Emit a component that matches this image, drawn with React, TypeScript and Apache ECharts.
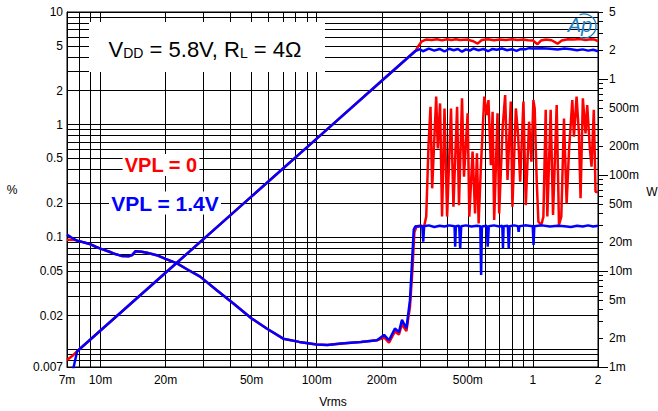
import React, { useEffect, useRef } from 'react';
import * as echarts from 'echarts';

const FONT = "'Liberation Sans', Arial, sans-serif";

// Tick labels
const xTickValues = [0.007, 0.01, 0.02, 0.05, 0.1, 0.2, 0.5, 1, 2];
const xTickLabels = ['7m', '10m', '20m', '50m', '100m', '200m', '500m', '1', '2'];
const leftTickValues = [10, 5, 2, 1, 0.5, 0.2, 0.1, 0.05, 0.02, 0.007];
const leftTickLabels = ['10', '5', '2', '1', '0.5', '0.2', '0.1', '0.05', '0.02', '0.007'];
const rightTickValues = [5, 2, 1, 0.5, 0.2, 0.1, 0.05, 0.02, 0.01, 0.005, 0.002, 0.001];
const rightTickLabels = ['5', '2', '1', '500m', '200m', '100m', '50m', '20m', '10m', '5m', '2m', '1m'];
const rightDecades = [1, 0.1, 0.01, 0.001];

// THD+N (%) vs Vrms
const thdBlueStart = [[0.007, 0.105], [0.0074, 0.098]];
const thdRedStart = [[0.007, 0.094], [0.0074, 0.095]];
const thdShared = [
  [0.0078, 0.093], [0.0085, 0.089], [0.009, 0.086], [0.0095, 0.082], [0.01, 0.079],
  [0.011, 0.074], [0.0117, 0.0706], [0.0125, 0.068], [0.0135, 0.0674], [0.014, 0.069],
  [0.0145, 0.0746], [0.0155, 0.074], [0.0164, 0.0726], [0.0182, 0.069], [0.02, 0.064],
  [0.0226, 0.0584], [0.025, 0.052], [0.0289, 0.0445], [0.0345, 0.0337], [0.0412, 0.0257],
  [0.05, 0.0189], [0.0587, 0.0154], [0.07, 0.0125], [0.083, 0.0117], [0.1, 0.0111],
  [0.112, 0.011], [0.13, 0.0113], [0.16, 0.0117], [0.19, 0.0121],
];
const thdBlueTail = [
  [0.205, 0.0135], [0.216, 0.0121], [0.23, 0.0154], [0.24, 0.0143], [0.248, 0.0184],
  [0.26, 0.0154], [0.27, 0.0275], [0.276, 0.06], [0.281, 0.116], [0.286, 0.125],
  [0.295, 0.124], [0.305, 0.126], [0.308, 0.124], [0.311, 0.091], [0.314, 0.125],
  [0.33, 0.127], [0.35, 0.123], [0.37, 0.126], [0.39, 0.124], [0.41, 0.127],
  [0.434, 0.125], [0.437, 0.082], [0.44, 0.125], [0.456, 0.126], [0.461, 0.079],
  [0.466, 0.125], [0.49, 0.127], [0.52, 0.124], [0.55, 0.126], [0.571, 0.125],
  [0.576, 0.046], [0.581, 0.124], [0.612, 0.126], [0.618, 0.082], [0.625, 0.125],
  [0.66, 0.127], [0.7, 0.124], [0.722, 0.126], [0.727, 0.079], [0.732, 0.125],
  [0.766, 0.126], [0.773, 0.079], [0.78, 0.125], [0.82, 0.127], [0.852, 0.125],
  [0.859, 0.111], [0.866, 0.125], [0.92, 0.127], [0.998, 0.125], [1.007, 0.085],
  [1.015, 0.125], [1.1, 0.127], [1.2, 0.124], [1.3, 0.126], [1.4, 0.125],
  [1.5, 0.123], [1.6, 0.126], [1.7, 0.124], [1.8, 0.127], [1.9, 0.124], [2.0, 0.126],
];
const thdRedTail = [
  [0.205, 0.0128], [0.216, 0.0115], [0.23, 0.0145], [0.24, 0.0136], [0.248, 0.0168],
  [0.26, 0.0146], [0.27, 0.024], [0.277, 0.05], [0.283, 0.11], [0.29, 0.125],
  [0.3, 0.126], [0.31, 0.124], [0.315, 0.128], [0.321, 0.152], [0.329, 0.658],
  [0.336, 1.44], [0.342, 0.271], [0.357, 1.77], [0.363, 0.614], [0.372, 1.54],
  [0.38, 0.152], [0.39, 1.39], [0.401, 0.152], [0.418, 1.39], [0.429, 0.186],
  [0.446, 1.44], [0.455, 0.192], [0.47, 1.71], [0.48, 0.344], [0.499, 1.26],
  [0.508, 0.152], [0.526, 0.574], [0.54, 0.162], [0.551, 0.555], [0.561, 0.132],
  [0.575, 0.436], [0.596, 1.77], [0.611, 1.21], [0.623, 1.65], [0.639, 0.436],
  [0.651, 1.3], [0.662, 0.142], [0.686, 1.26], [0.698, 0.162], [0.724, 0.925],
  [0.744, 1.83], [0.763, 0.321], [0.79, 1.6], [0.804, 0.186], [0.834, 1.39],
  [0.854, 0.807], [0.873, 0.31], [0.904, 1.6], [0.927, 0.192], [0.96, 1.06],
  [0.984, 0.467], [1.005, 1.65], [1.019, 1.39], [1.041, 0.321], [1.06, 0.137],
  [1.094, 0.128], [1.118, 0.152], [1.146, 1.35], [1.166, 0.152], [1.208, 1.35],
  [1.239, 0.157], [1.288, 1.49], [1.32, 0.128], [1.353, 0.152], [1.392, 1.13],
  [1.432, 0.199], [1.468, 0.574], [1.521, 1.65], [1.548, 0.78], [1.592, 1.77],
  [1.632, 0.835], [1.661, 0.221], [1.702, 1.71], [1.751, 0.835], [1.783, 1.49],
  [1.834, 0.614], [1.867, 0.422], [1.913, 1.35], [1.948, 0.253], [2.0, 0.25],
];

// Output power (W) vs Vrms
const pwrBlueStart = [[0.00745, 0.0009], [0.0075, 0.00098]];
const pwrRedStart = [[0.007, 0.00118], [0.0074, 0.0013]];
const pwrShared = [
  [0.0078, 0.00146], [0.01, 0.0024], [0.02, 0.0096], [0.05, 0.06], [0.1, 0.24],
  [0.2, 0.96], [0.286, 1.96],
];
const pwrBlueTail = [
  [0.3, 2.05], [0.31, 1.95], [0.33, 2.08], [0.35, 1.98], [0.37, 2.06], [0.39, 1.94],
  [0.41, 2.07], [0.43, 2.0], [0.45, 2.06], [0.47, 1.93], [0.49, 2.04], [0.51, 1.98],
  [0.53, 2.08], [0.56, 2.0], [0.59, 2.06], [0.62, 1.95], [0.65, 2.06], [0.68, 2.02],
  [0.72, 2.08], [0.76, 2.0], [0.8, 2.05], [0.84, 1.97], [0.88, 2.06], [0.92, 2.04],
  [0.96, 2.1], [1.0, 2.08], [1.1, 2.1], [1.2, 2.07], [1.3, 2.03], [1.4, 2.08],
  [1.5, 2.05], [1.6, 2.0], [1.7, 2.04], [1.8, 1.98], [1.9, 2.02], [2.0, 1.95],
];
const pwrRedTail = [
  [0.295, 2.2], [0.305, 2.45], [0.32, 2.58], [0.34, 2.55], [0.36, 2.6], [0.38, 2.53],
  [0.4, 2.6], [0.42, 2.55], [0.44, 2.6], [0.46, 2.55], [0.5, 2.58], [0.53, 2.48],
  [0.555, 2.34], [0.58, 2.55], [0.62, 2.6], [0.66, 2.54], [0.7, 2.58], [0.75, 2.55],
  [0.8, 2.6], [0.85, 2.55], [0.9, 2.58], [0.95, 2.54], [1.0, 2.52], [1.05, 2.31],
  [1.09, 2.52], [1.15, 2.58], [1.22, 2.54], [1.3, 2.34], [1.36, 2.52], [1.45, 2.6],
  [1.55, 2.58], [1.65, 2.62], [1.75, 2.56], [1.85, 2.6], [1.93, 2.58], [2.0, 2.48],
];

function logGrid(lo: number, hi: number): number[] {
  const out: number[] = [];
  for (let e = -4; e <= 1; e++) {
    for (let m = 1; m <= 9; m++) {
      const v = parseFloat((m * Math.pow(10, e)).toPrecision(6));
      if (v >= lo * 0.99999 && v <= hi * 1.00001) out.push(v);
    }
  }
  return out;
}

function makeFormatter(values: number[], labels: string[]) {
  return (v: number) => {
    const i = values.findIndex((t) => Math.abs(t - v) / t < 1e-6);
    return i >= 0 ? labels[i] : '';
  };
}

const RED = '#ff0000';
const BLUE = '#0000ff';
const GRID = '#000000';

export default function App() {
  const ref = useRef<HTMLDivElement>(null);
  useEffect(() => {
    if (!ref.current) return;
    const chart = echarts.init(ref.current, null, { renderer: 'svg' });
    const lineSeries = (name: string, data: number[][], color: string, yAxisIndex: number) => ({
      name,
      type: 'line',
      data,
      yAxisIndex,
      symbol: 'none',
      showSymbol: false,
      clip: true,
      lineStyle: { color, width: 2.5 },
      z: color === BLUE ? 4 : 3,
    });
    chart.setOption({
      animation: false,
      textStyle: { fontFamily: FONT },
      grid: {
        left: 67, right: 60, top: 12, bottom: 44,
        show: true, borderColor: '#000', borderWidth: 1, backgroundColor: 'transparent',
      },
      xAxis: {
        type: 'log', logBase: 10, min: 0.007, max: 2,
        axisLine: { show: true, lineStyle: { color: '#000', width: 1 } },
        axisTick: { show: false, customValues: logGrid(0.007, 2) },
        axisLabel: {
          customValues: xTickValues,
          formatter: makeFormatter(xTickValues, xTickLabels),
          color: '#000', fontSize: 12, fontFamily: FONT, margin: 7,
        },
        splitLine: { show: true, lineStyle: { color: GRID, width: 1 } },
        minorTick: { show: false },
        minorSplitLine: { show: false },
      },
      yAxis: [
        {
          type: 'log', logBase: 10, min: 0.007, max: 10, position: 'left',
          axisLine: { show: true, lineStyle: { color: '#000', width: 1 } },
          axisTick: { show: false, customValues: logGrid(0.007, 10) },
          axisLabel: {
            customValues: leftTickValues,
            formatter: makeFormatter(leftTickValues, leftTickLabels),
            color: '#000', fontSize: 12, fontFamily: FONT, margin: 4,
          },
          splitLine: { show: true, lineStyle: { color: GRID, width: 1 } },
        },
        {
          type: 'log', logBase: 10, min: 0.001, max: 5, position: 'right',
          axisLine: { show: true, lineStyle: { color: '#000', width: 1 } },
          axisTick: {
            show: true, inside: false, length: 5,
            customValues: logGrid(0.001, 5),
            lineStyle: { color: '#000', width: 1 },
          },
          axisLabel: {
            customValues: rightTickValues,
            formatter: makeFormatter(rightTickValues, rightTickLabels),
            color: '#000', fontSize: 12, fontFamily: FONT, margin: 11,
          },
          splitLine: { show: false },
        },
        {
          type: 'log', logBase: 10, min: 0.001, max: 5, position: 'right',
          axisLine: { show: false },
          axisTick: {
            show: true, inside: false, length: 10,
            customValues: rightDecades,
            lineStyle: { color: '#000', width: 1 },
          },
          axisLabel: { show: false },
          splitLine: { show: false },
        },
      ],
      series: [
        lineSeries('THD VPL=0', [...thdRedStart, ...thdShared, ...thdRedTail], RED, 0),
        lineSeries('P VPL=0', [...pwrRedStart, ...pwrShared, ...pwrRedTail], RED, 1),
        lineSeries('THD VPL=1.4V', [...thdBlueStart, ...thdShared, ...thdBlueTail], BLUE, 0),
        lineSeries('P VPL=1.4V', [...pwrBlueStart, ...pwrShared, ...pwrBlueTail], BLUE, 1),
      ],
      graphic: [
        { type: 'rect', z: 100, shape: { x: 89, y: 22, width: 236, height: 50 }, style: { fill: '#fff' } },
        {
          type: 'text', z: 101, x: 205, y: 47,
          style: {
            text: '{a|V}{b|DD}{a| = 5.8V, R}{b|L}{a| = 4Ω}',
            align: 'center', verticalAlign: 'middle',
            textAlign: 'center', textVerticalAlign: 'middle',
            rich: {
              a: { fontSize: 22, fontFamily: FONT, fill: '#000', lineHeight: 26, verticalAlign: 'bottom' },
              b: { fontSize: 14, fontFamily: FONT, fill: '#000', lineHeight: 18, verticalAlign: 'bottom' },
            },
          },
        },
        {
          type: 'text', z: 101, x: 161, y: 165,
          style: {
            text: 'VPL = 0', fill: RED, font: `bold 20px ${FONT}`,
            align: 'center', verticalAlign: 'middle', textAlign: 'center', textVerticalAlign: 'middle',
            backgroundColor: '#fff', padding: [1, 2],
          },
        },
        {
          type: 'text', z: 101, x: 165, y: 203,
          style: {
            text: 'VPL = 1.4V', fill: BLUE, font: `bold 21px ${FONT}`,
            align: 'center', verticalAlign: 'middle', textAlign: 'center', textVerticalAlign: 'middle',
            backgroundColor: '#fff', padding: [1, 2],
          },
        },
        {
          type: 'text', z: 101, x: 12, y: 190,
          style: { text: '%', fill: '#000', font: `12px ${FONT}`, align: 'center', verticalAlign: 'middle', textAlign: 'center', textVerticalAlign: 'middle' },
        },
        {
          type: 'text', z: 101, x: 652, y: 192,
          style: { text: 'W', fill: '#000', font: `12px ${FONT}`, align: 'center', verticalAlign: 'middle', textAlign: 'center', textVerticalAlign: 'middle' },
        },
        {
          type: 'text', z: 101, x: 333, y: 402,
          style: { text: 'Vrms', fill: '#000', font: `12px ${FONT}`, align: 'center', verticalAlign: 'middle', textAlign: 'center', textVerticalAlign: 'middle' },
        },
        {
          type: 'text', z: 101, x: 580, y: 25,
          style: {
            text: 'Ap', fill: '#1b7fc3', font: `italic 20px ${FONT}`,
            align: 'center', verticalAlign: 'middle', textAlign: 'center', textVerticalAlign: 'middle',
          },
        },
        {
          type: 'arc', z: 101,
          shape: { cx: 584, cy: 26, r: 12, startAngle: -1.95, endAngle: 1.9, clockwise: true },
          style: { stroke: '#1b7fc3', lineWidth: 1.3, fill: 'none' },
        },
      ],
    });
    return () => chart.dispose();
  }, []);
  return <div ref={ref} style={{ position: 'absolute', left: 0, top: 0, width: 658, height: 411 }} />;
}
